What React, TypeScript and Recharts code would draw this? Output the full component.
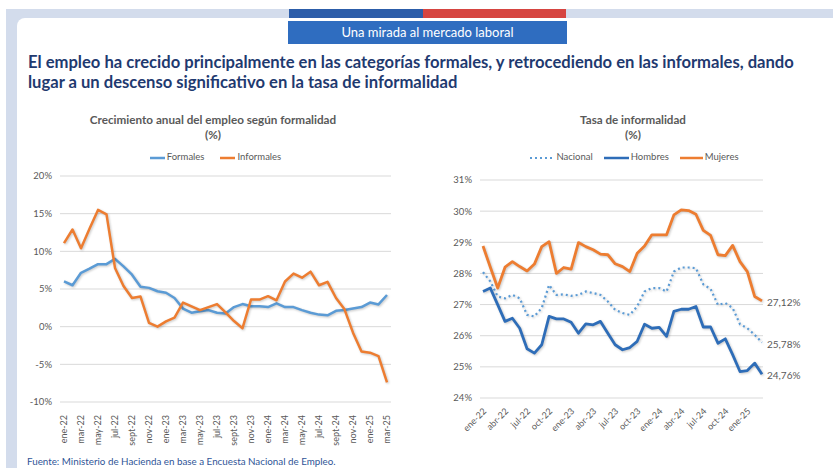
import React from 'react';
import { LineChart, Line, XAxis, YAxis, CartesianGrid } from 'recharts';

const categories = [
  'ene-22','feb-22','mar-22','abr-22','may-22','jun-22','jul-22','ago-22','sept-22','oct-22','nov-22','dic-22',
  'ene-23','feb-23','mar-23','abr-23','may-23','jun-23','jul-23','ago-23','sept-23','oct-23','nov-23','dic-23',
  'ene-24','feb-24','mar-24','abr-24','may-24','jun-24','jul-24','ago-24','sept-24','oct-24','nov-24','dic-24',
  'ene-25','feb-25','mar-25',
];

const formales = [6.0,5.5,7.15,7.7,8.3,8.3,9.0,8.0,6.9,5.3,5.15,4.7,4.5,3.8,2.4,1.85,2.05,2.2,1.85,1.75,2.6,3.0,2.7,2.7,2.6,3.1,2.6,2.6,2.2,1.85,1.6,1.5,2.1,2.2,2.4,2.6,3.2,2.95,4.2];
const informales = [11.1,12.9,10.4,13.0,15.5,14.9,7.8,5.4,3.8,4.0,0.5,0.0,0.7,1.2,3.2,2.7,2.2,2.6,3.0,1.9,0.75,-0.2,3.6,3.6,4.05,3.5,6.0,7.05,6.5,7.3,5.5,5.95,3.8,2.3,-0.8,-3.3,-3.45,-3.9,-7.4];

const mujeres = [28.88,28.2,27.53,28.2,28.38,28.22,28.08,28.3,28.86,29.02,28.0,28.19,28.14,28.99,28.86,28.76,28.62,28.6,28.31,28.22,28.06,28.65,28.88,29.24,29.24,29.24,29.88,30.04,30.02,29.9,29.38,29.22,28.6,28.57,28.9,28.38,28.06,27.26,27.12];
const hombres = [27.42,27.53,27.0,26.46,26.56,26.24,25.58,25.44,25.71,26.62,26.54,26.54,26.43,26.08,26.38,26.35,26.46,26.08,25.71,25.55,25.62,25.82,26.37,26.24,26.27,25.98,26.78,26.85,26.85,26.94,26.28,26.28,25.76,25.9,25.39,24.85,24.88,25.12,24.76];
const nacional = [28.04,27.74,27.26,27.2,27.31,27.2,26.67,26.62,26.89,27.63,27.31,27.33,27.28,27.31,27.42,27.37,27.31,27.1,26.83,26.73,26.67,26.94,27.42,27.53,27.53,27.42,28.06,28.19,28.19,28.17,27.65,27.5,26.99,27.05,26.89,26.37,26.24,26.03,25.78];

const leftTicks = [-10, -5, 0, 5, 10, 15, 20];
const rightTicks = [24, 25, 26, 27, 28, 29, 30, 31];

const leftData = categories.map((mes, i) => ({ mes, formales: formales[i], informales: informales[i] }));
const rightData = categories.map((mes, i) => ({ mes, nacional: nacional[i], hombres: hombres[i], mujeres: mujeres[i] }));

const FONT = 'Lato, "Open Sans", sans-serif';
const GRAY = '#595959';
const ORANGE = '#ED7D31';
const LIGHTBLUE = '#5B9BD5';
const DARKBLUE = '#2E6DB8';
const LAST = categories.length - 1;

const fmtPct = (v: number) => `${v}%`;
const fmtComma = (v: number) => `${v.toFixed(2).replace('.', ',')}%`;

const VertTick = (props: any) => {
  const { x, y, payload } = props;
  return (
    <text x={x} y={y + 5} dy="0.35em" textAnchor="end" fontSize={9} fill={GRAY} fontFamily={FONT}
      transform={`rotate(-90, ${x}, ${y + 5})`}>
      {payload.value}
    </text>
  );
};

const DiagTick = (props: any) => {
  const { x, y, payload } = props;
  return (
    <text x={x + 2} y={y + 4} dy="0.3em" textAnchor="end" fontSize={9} fill={GRAY} fontFamily={FONT}
      transform={`rotate(-45, ${x + 2}, ${y + 4})`}>
      {payload.value}
    </text>
  );
};

const EndLabel = (props: any) => {
  const { x, y, index, value } = props;
  if (index !== LAST) return null;
  return (
    <text x={x + 5} y={y + 1.5} dy="0.35em" textAnchor="start" fontSize={10} fill={GRAY} fontFamily={FONT}>
      {fmtComma(Number(value))}
    </text>
  );
};

const LegendLine = ({ color, dotted, w }: { color: string; dotted?: boolean; w: number }) => (
  <svg width={w} height={6} style={{ display: 'inline-block', verticalAlign: 'middle', marginRight: 1 }}>
    <line x1={1} y1={3} x2={w - 1} y2={3} stroke={color} strokeWidth={dotted ? 2 : 2.5}
      strokeDasharray={dotted ? '2 3' : undefined} />
  </svg>
);

export default function App() {
  return (
    <div style={{ position: 'absolute', left: 0, top: 0, width: 833, height: 468, background: '#fff', overflow: 'hidden', fontFamily: FONT }}>
      <style>{`.recharts-line-curve { filter: drop-shadow(1px 1.5px 1px rgba(0,0,0,0.22)); }`}</style>
      {/* frame */}
      <div style={{ position: 'absolute', left: 6, top: 9, width: 827, height: 459, background: '#D3DCEC' }} />
      <div style={{ position: 'absolute', left: 17, top: 18, width: 816, height: 450, background: '#fff', borderTopLeftRadius: 8 }} />
      <div style={{ position: 'absolute', left: 289, top: 9, width: 134, height: 9, background: '#2C5DA9' }} />
      <div style={{ position: 'absolute', left: 423, top: 9, width: 143, height: 9, background: '#D64541' }} />
      <div style={{ position: 'absolute', left: 288, top: 21, width: 279, height: 23, background: '#2F6DC0', color: '#fff', fontSize: 13, lineHeight: '23px', textAlign: 'center' }}>
        Una mirada al mercado laboral
      </div>

      {/* headline */}
      <div style={{ position: 'absolute', left: 28, top: 52, color: '#1F3A70', fontWeight: 700, fontSize: 16.6, lineHeight: '20px', whiteSpace: 'nowrap' }}>
        El empleo ha crecido principalmente en las categorías formales, y retrocediendo en las informales, dando<br />
        lugar a un descenso significativo en la tasa de informalidad
      </div>

      {/* left chart titles */}
      <div style={{ position: 'absolute', left: 60, width: 306, top: 112, textAlign: 'center', color: GRAY, fontWeight: 700, fontSize: 11.7, lineHeight: '15px', whiteSpace: 'nowrap' }}>
        Crecimiento anual del empleo según formalidad<br />(%)
      </div>
      <div style={{ position: 'absolute', left: 62, width: 306, top: 150, textAlign: 'center', color: GRAY, fontSize: 9.5, lineHeight: '14px', whiteSpace: 'nowrap' }}>
        <LegendLine color={LIGHTBLUE} w={17} />Formales
        <span style={{ display: 'inline-block', width: 15 }} />
        <LegendLine color={ORANGE} w={17} />Informales
      </div>

      {/* right chart titles */}
      <div style={{ position: 'absolute', left: 480, width: 306, top: 112, textAlign: 'center', color: GRAY, fontWeight: 700, fontSize: 11.6, lineHeight: '15px', whiteSpace: 'nowrap' }}>
        Tasa de informalidad<br />(%)
      </div>
      <div style={{ position: 'absolute', left: 481, width: 306, top: 150, textAlign: 'center', color: GRAY, fontSize: 9.5, lineHeight: '14px', whiteSpace: 'nowrap' }}>
        <LegendLine color={LIGHTBLUE} dotted w={26} />Nacional
        <span style={{ display: 'inline-block', width: 10 }} />
        <LegendLine color={DARKBLUE} w={27} />Hombres
        <span style={{ display: 'inline-block', width: 10 }} />
        <LegendLine color={ORANGE} w={25} />Mujeres
      </div>

      {/* left chart */}
      <div style={{ position: 'absolute', left: 0, top: 160 }}>
        <LineChart width={410} height={300} data={leftData} margin={{ top: 16, right: 19, bottom: 0, left: 0 }}>
          <CartesianGrid vertical={false} stroke="#D9D9D9" strokeWidth={1} />
          <XAxis dataKey="mes" interval={1} tick={<VertTick />} tickLine={false} axisLine={false} height={58}
            padding={{ left: 4, right: 4 }} />
          <YAxis domain={[-10, 20]} ticks={leftTicks} tickFormatter={fmtPct} width={60} axisLine={false} tickLine={false}
            tick={{ fontSize: 9.5, fill: GRAY, fontFamily: FONT }} />
          <Line dataKey="formales" stroke={LIGHTBLUE} strokeWidth={2.5} dot={false} isAnimationActive={false} strokeLinejoin="round" />
          <Line dataKey="informales" stroke={ORANGE} strokeWidth={2.5} dot={false} isAnimationActive={false} strokeLinejoin="round" />
        </LineChart>
      </div>

      {/* right chart */}
      <div style={{ position: 'absolute', left: 430, top: 160 }}>
        <LineChart width={403} height={300} data={rightData} margin={{ top: 20, right: 70, bottom: 0, left: 0 }}>
          <CartesianGrid vertical={false} stroke="#D9D9D9" strokeWidth={1} />
          <XAxis dataKey="mes" interval={2} tick={<DiagTick />} tickLine={false} axisLine={false} height={62}
            padding={{ left: 3, right: 1 }} />
          <YAxis domain={[24, 31]} ticks={rightTicks} tickFormatter={fmtPct} width={50} axisLine={false} tickLine={false}
            tick={{ fontSize: 9.5, fill: GRAY, fontFamily: FONT }} />
          <Line dataKey="nacional" stroke={LIGHTBLUE} strokeWidth={2.2} strokeDasharray="2 3" dot={false} isAnimationActive={false}
            label={<EndLabel />} />
          <Line dataKey="hombres" stroke={DARKBLUE} strokeWidth={2.8} dot={false} isAnimationActive={false} strokeLinejoin="round"
            label={<EndLabel />} />
          <Line dataKey="mujeres" stroke={ORANGE} strokeWidth={2.8} dot={false} isAnimationActive={false} strokeLinejoin="round"
            label={<EndLabel />} />
        </LineChart>
      </div>

      {/* footer */}
      <div style={{ position: 'absolute', left: 27, top: 455, color: '#2F5597', fontSize: 9.8, lineHeight: '13px', whiteSpace: 'nowrap' }}>
        Fuente: Ministerio de Hacienda en base a Encuesta Nacional de Empleo.
      </div>
    </div>
  );
}
